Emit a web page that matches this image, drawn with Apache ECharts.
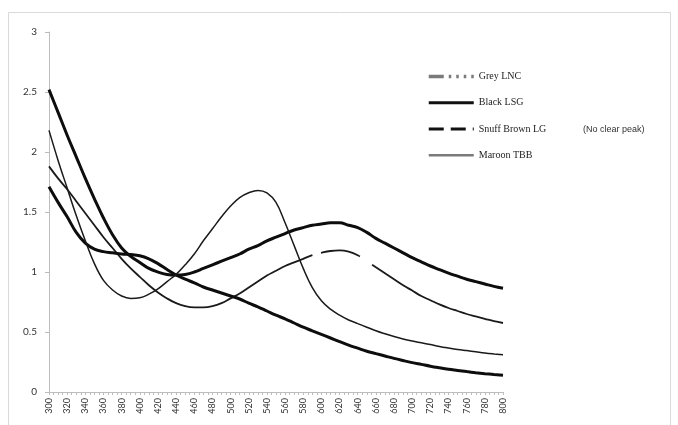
<!DOCTYPE html>
<html>
<head>
<meta charset="utf-8">
<script src="https://cdn.jsdelivr.net/npm/echarts@6/dist/echarts.min.js"></script>
<style>
  html, body { margin: 0; padding: 0; background: #fff; }
  #chart { width: 678px; height: 425px; }
</style>
</head>
<body>
<div id="chart"></div>
<script>
// Wavelength (nm) of each sample
const wavelengths = [300, 310, 320, 330, 340, 350, 360, 370, 380, 390,
  400, 410, 420, 430, 440, 450, 460, 470, 480, 490,
  500, 510, 520, 530, 540, 550, 560, 570, 580, 590,
  600, 610, 620, 630, 640, 650, 660, 670, 680, 690,
  700, 710, 720, 730, 740, 750, 760, 770, 780, 790, 800];

// Absorbance per sample
const greyLNC = [1.88, 1.78, 1.69, 1.59, 1.49, 1.39, 1.29, 1.20, 1.11, 1.03,
  0.96, 0.89, 0.83, 0.78, 0.74, 0.715, 0.705, 0.705, 0.715, 0.74,
  0.78, 0.82, 0.87, 0.92, 0.97, 1.01, 1.05, 1.08, 1.11, 1.14,
  1.16, 1.175, 1.18, 1.17, 1.14, 1.09, 1.04, 0.99, 0.94, 0.89,
  0.845, 0.80, 0.765, 0.73, 0.70, 0.675, 0.65, 0.63, 0.61, 0.59, 0.575];

const blackLSG = [2.52, 2.33, 2.14, 1.96, 1.78, 1.61, 1.45, 1.31, 1.20, 1.13,
  1.08, 1.03, 1.00, 0.98, 0.975, 0.98, 1.00, 1.03, 1.06, 1.09,
  1.12, 1.15, 1.19, 1.22, 1.26, 1.29, 1.32, 1.35, 1.37, 1.39,
  1.40, 1.41, 1.41, 1.39, 1.37, 1.33, 1.28, 1.24, 1.20, 1.16,
  1.12, 1.085, 1.05, 1.02, 0.99, 0.965, 0.94, 0.92, 0.90, 0.88, 0.865];

const snuffBrownLG = [1.71, 1.58, 1.46, 1.33, 1.24, 1.19, 1.17, 1.16, 1.15, 1.145,
  1.135, 1.11, 1.07, 1.02, 0.975, 0.94, 0.91, 0.875, 0.85, 0.825,
  0.80, 0.775, 0.74, 0.71, 0.675, 0.64, 0.61, 0.575, 0.54, 0.51,
  0.48, 0.45, 0.42, 0.39, 0.365, 0.34, 0.32, 0.30, 0.28, 0.262,
  0.245, 0.23, 0.215, 0.202, 0.19, 0.18, 0.17, 0.161, 0.153, 0.146, 0.14];

const maroonTBB = [2.18, 1.93, 1.70, 1.47, 1.26, 1.07, 0.93, 0.85, 0.80, 0.78,
  0.785, 0.815, 0.86, 0.92, 0.98, 1.06, 1.15, 1.26, 1.36, 1.46,
  1.55, 1.62, 1.66, 1.68, 1.66, 1.58, 1.41, 1.22, 1.03, 0.87,
  0.76, 0.69, 0.64, 0.60, 0.57, 0.54, 0.51, 0.485, 0.462, 0.442,
  0.425, 0.41, 0.395, 0.38, 0.367, 0.355, 0.345, 0.335, 0.325, 0.317, 0.31];

// Peak wavelengths marked on the curves: [series, wavelength, absorbance at peak]
const peakLabels = [
  ['Maroon TBB', 530, 1.68],
  ['Black LSG', 615, 1.41],
  ['Grey LNC', 620, 1.18]
];

const pairs = (ys) => wavelengths.map((x, i) => [x, ys[i]]);

function peakMark(name, offset) {
  const p = peakLabels.find(r => r[0] === name);
  return {
    symbol: 'none',
    silent: true,
    data: [{ coord: [p[1], p[2]], value: p[1] }],
    label: {
      show: true, formatter: String(p[1]), offset: offset,
      fontFamily: 'Liberation Serif', fontSize: 10, color: '#3b3b4a'
    }
  };
}

// Legend swatches: line only, no point symbol
const hidden = { opacity: 0, color: 'transparent', borderWidth: 0 };

const chart = echarts.init(document.getElementById('chart'));
chart.setOption({
  animation: false,
  backgroundColor: '#fff',
  grid: { left: 49, right: 175, top: 32, bottom: 33 },
  legend: {
    orient: 'vertical',
    left: 422, top: 66,
    itemWidth: 45, itemHeight: 14, itemGap: 15,
    itemStyle: hidden,
    textStyle: { fontFamily: 'Liberation Serif', fontSize: 10, color: '#222' },
    data: [
      { name: 'Grey LNC', itemStyle: hidden, lineStyle: { color: '#7a7a7a', width: 3.5, type: [15, 5, 2.5, 5, 2.5, 5, 2.5, 5] } },
      { name: 'Black LSG', itemStyle: hidden, lineStyle: { color: '#111', width: 3, type: 'solid' } },
      { name: 'Snuff Brown LG', itemStyle: hidden, lineStyle: { color: '#111', width: 3, type: [15, 7] } },
      { name: 'Maroon TBB', itemStyle: hidden, lineStyle: { color: '#7a7a7a', width: 2.5, type: 'solid' } }
    ]
  },
  xAxis: {
    type: 'value', min: 300, max: 800, interval: 20,
    axisLine: { show: true, onZero: false, lineStyle: { color: '#bdbdbd' } },
    axisTick: { show: true, length: 3, lineStyle: { color: '#bdbdbd' } },
    minorTick: { show: true, splitNumber: 4, length: 3, lineStyle: { color: '#bdbdbd' } },
    splitLine: { show: false },
    axisLabel: { rotate: 90, fontFamily: 'Lato', fontSize: 9, color: '#333', margin: 6 }
  },
  yAxis: {
    type: 'value', min: 0, max: 3, interval: 0.5,
    axisLine: { show: true, lineStyle: { color: '#bdbdbd' } },
    axisTick: { show: true, length: 4, lineStyle: { color: '#bdbdbd' } },
    splitLine: { show: false },
    axisLabel: { fontFamily: 'Lato', fontSize: 10, color: '#333', margin: 12 }
  },
  series: [
    {
      name: 'Grey LNC', type: 'line', data: pairs(greyLNC), smooth: 0.4,
      symbol: 'none', itemStyle: { color: '#1a1a1a' },
      lineStyle: { color: '#1a1a1a', width: 1.8, type: [338, 9, 40, 15, 1000] },
      markPoint: peakMark('Grey LNC', [2, 19])
    },
    {
      name: 'Black LSG', type: 'line', data: pairs(blackLSG), smooth: 0.4,
      symbol: 'none', itemStyle: { color: '#0d0d0d' },
      lineStyle: { color: '#0d0d0d', width: 3 },
      markPoint: peakMark('Black LSG', [0, -24])
    },
    {
      name: 'Snuff Brown LG', type: 'line', data: pairs(snuffBrownLG), smooth: 0.4,
      symbol: 'none', itemStyle: { color: '#0d0d0d' },
      lineStyle: { color: '#0d0d0d', width: 3 }
    },
    {
      name: 'Maroon TBB', type: 'line', data: pairs(maroonTBB), smooth: 0.4,
      symbol: 'none', itemStyle: { color: '#1a1a1a' },
      lineStyle: { color: '#1a1a1a', width: 1.5 },
      markPoint: peakMark('Maroon TBB', [14, -21])
    }
  ],
  graphic: [
    {
      type: 'rect', silent: true, z: -1,
      shape: { x: 8.5, y: 12.5, width: 662, height: 430 },
      style: { fill: null, stroke: '#d9d9d9', lineWidth: 1 }
    },
    {
      type: 'text', left: 583, top: 125, silent: true,
      style: { text: '(No clear peak)', fontFamily: 'Liberation Sans', fontSize: 9, fill: '#333' }
    }
  ]
});
</script>
</body>
</html>
